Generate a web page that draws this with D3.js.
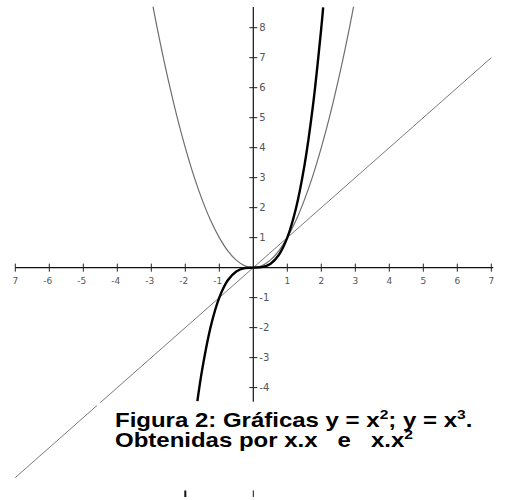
<!DOCTYPE html>
<html>
<head>
<meta charset="utf-8">
<script src="https://cdn.jsdelivr.net/npm/d3@7"></script>
<style>
  html, body { margin: 0; padding: 0; background: #fff; }
  svg { display: block; }
  .caption { font-family: "Liberation Sans", Arial, sans-serif; font-weight: bold; white-space: pre; }
  .tick-label { font-family: "DejaVu Sans", sans-serif; fill: #555; }
</style>
</head>
<body>
<svg id="chart" width="506" height="500"></svg>
<script>
// Tick values and labels
const xTicks = [-7, -6, -5, -4, -3, -2, -1, 1, 2, 3, 4, 5, 6, 7];
const xTickLabels = ["7", "-6", "-5", "-4", "-3", "-2", "-1", "1", "2", "3", "4", "5", "6", "7"];
const yTicks = [-4, -3, -2, -1, 1, 2, 3, 4, 5, 6, 7, 8];
const yTickLabels = ["-4", "-3", "-2", "-1", "1", "2", "3", "4", "5", "6", "7", "8"];

// y = x^2 (thin grey)
const parabolaX = [-2.95, -2.75, -2.5, -2.25, -2, -1.75, -1.5, -1.25, -1, -0.75, -0.5, -0.25, 0,
                   0.25, 0.5, 0.75, 1, 1.25, 1.5, 1.75, 2, 2.25, 2.5, 2.75, 2.95];
const parabolaY = [8.70, 7.56, 6.25, 5.06, 4, 3.06, 2.25, 1.56, 1, 0.56, 0.25, 0.06, 0,
                   0.06, 0.25, 0.56, 1, 1.56, 2.25, 3.06, 4, 5.06, 6.25, 7.56, 8.70];

// y = x^3 (thick black)
const cubicX = [-1.645, -1.5, -1.25, -1, -0.75, -0.5, -0.25, 0, 0.25, 0.5, 0.75, 1, 1.25, 1.5, 1.75, 2, 2.055];
const cubicY = [-4.45, -3.375, -1.953, -1, -0.422, -0.125, -0.016, 0, 0.016, 0.125, 0.422, 1, 1.953, 3.375, 5.359, 8, 8.68];

// y = x (thin grey), drawn in two pieces
const lineX1 = [-7, -4.6];
const lineY1 = [-7, -4.6];
const lineX2 = [-4.5, 7];
const lineY2 = [-4.5, 7];

// short stubs at the bottom edge
const stubX = [-2, 0];
const stubWidth = [2, 1];

const svg = d3.select("#chart");

const x = d3.scaleLinear().domain([-7, 7]).range([15.3, 491.3]);
const y = d3.scaleLinear().domain([-4.47, 8.69]).range([401.7, 7]);

const line = d3.line().x(d => x(d[0])).y(d => y(d[1])).curve(d3.curveCatmullRom.alpha(0.5));
const zip = (a, b) => a.map((v, i) => [v, b[i]]);

// axes
svg.append("line")
  .attr("x1", x(-7)).attr("x2", x(7) + 2)
  .attr("y1", y(0)).attr("y2", y(0))
  .attr("stroke", "#111").attr("stroke-width", 1.2);
svg.append("line")
  .attr("x1", x(0)).attr("x2", x(0))
  .attr("y1", y(8.69)).attr("y2", y(-4.47))
  .attr("stroke", "#111").attr("stroke-width", 1.2);

// x ticks
const xg = svg.append("g");
xTicks.forEach((t, i) => {
  xg.append("line")
    .attr("x1", x(t)).attr("x2", x(t))
    .attr("y1", y(0) - 4).attr("y2", y(0) + 4)
    .attr("stroke", "#222").attr("stroke-width", 1);
  xg.append("text").attr("class", "tick-label")
    .attr("x", x(t) + (t < 0 && xTickLabels[i].startsWith("-") ? -1.5 : 0))
    .attr("y", y(0) + 16)
    .attr("text-anchor", "middle")
    .attr("font-size", 9)
    .text(xTickLabels[i]);
});

// y ticks
const yg = svg.append("g");
yTicks.forEach((t, i) => {
  yg.append("line")
    .attr("x1", x(0) - 4).attr("x2", x(0) + 4)
    .attr("y1", y(t)).attr("y2", y(t))
    .attr("stroke", "#222").attr("stroke-width", 1);
  yg.append("text").attr("class", "tick-label")
    .attr("x", x(0) + 6)
    .attr("y", y(t) + 3.5)
    .attr("font-size", 10)
    .text(yTickLabels[i]);
});

// y = x
svg.append("path").attr("d", line(zip(lineX1, lineY1)))
  .attr("fill", "none").attr("stroke", "#7a7a7a").attr("stroke-width", 1);
svg.append("path").attr("d", line(zip(lineX2, lineY2)))
  .attr("fill", "none").attr("stroke", "#7a7a7a").attr("stroke-width", 1);

// y = x^2
svg.append("path").attr("d", line(zip(parabolaX, parabolaY)))
  .attr("fill", "none").attr("stroke", "#6e6e6e").attr("stroke-width", 1.2);

// y = x^3
svg.append("path").attr("d", line(zip(cubicX, cubicY)))
  .attr("fill", "none").attr("stroke", "#000").attr("stroke-width", 2.4);

// bottom stubs
stubX.forEach((s, i) => {
  svg.append("line")
    .attr("x1", x(s)).attr("x2", x(s))
    .attr("y1", 490.5).attr("y2", 497)
    .attr("stroke", "#111").attr("stroke-width", stubWidth[i]);
});

// caption (slightly widened bold face)
const capG = svg.append("g").attr("transform", "translate(115,0) scale(1.2,1)");
const cap = capG.append("text").attr("class", "caption").attr("font-size", 20).attr("fill", "#000");
const l1 = cap.append("tspan").attr("x", 0).attr("y", 427);
l1.append("tspan").text("Figura 2: Gráficas y = x");
l1.append("tspan").attr("font-size", 13).attr("dy", -7.5).text("2");
l1.append("tspan").attr("dy", 7.5).text("; y = x");
l1.append("tspan").attr("font-size", 13).attr("dy", -7.5).text("3");
l1.append("tspan").attr("dy", 7.5).text(".");
const l2 = cap.append("tspan").attr("x", 0).attr("y", 447);
l2.append("tspan").text("Obtenidas por x.x   e   x.x");
l2.append("tspan").attr("font-size", 13).attr("dy", -7.5).text("2");
</script>
</body>
</html>
